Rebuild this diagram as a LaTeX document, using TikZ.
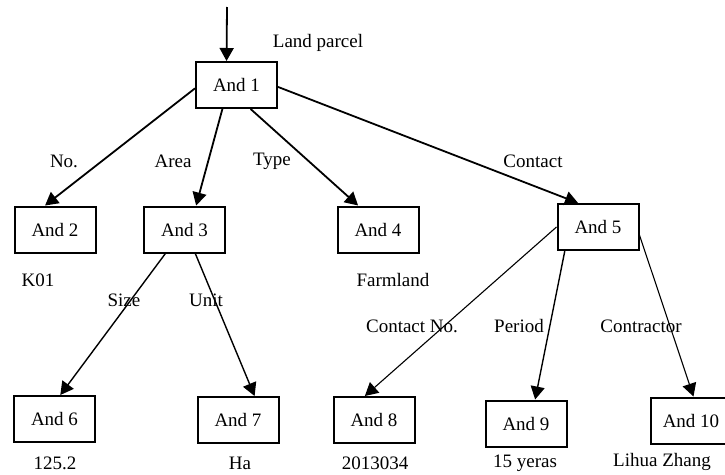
\documentclass[tikz,border=0pt]{standalone}
\usepackage{fontspec}
\setmainfont{Liberation Serif}
\usetikzlibrary{arrows.meta,calc}
\begin{document}
\begin{tikzpicture}[x=1pt,y=-1pt,
  every node/.style={font=\fontsize{19}{22}\selectfont, inner sep=0pt},
  andbox/.style={draw, line width=2pt, minimum width=81pt, minimum height=46pt},
  lbl/.style={anchor=center},
  arr/.style={line width=1.8pt, -{Triangle[length=13pt,width=14pt]}},
  arrm/.style={line width=1.4pt, -{Triangle[length=13pt,width=14pt]}},
  arrt/.style={line width=1.1pt, -{Triangle[length=13pt,width=14pt]}}]
\useasboundingbox (0,0) rectangle (725,474);
% boxes
\node[andbox] (n1) at (236.5,85) {And 1};
\node[andbox] (n2) at (55,229.5) {And 2};
\node[andbox] (n3) at (184.5,229.5) {And 3};
\node[andbox] (n4) at (378,229.5) {And 4};
\node[andbox] (n5) at (598,227) {And 5};
\node[andbox] (n6) at (54.5,419) {And 6};
\node[andbox] (n7) at (238,420) {And 7};
\node[andbox] (n8) at (374,420) {And 8};
\node[andbox] (n9) at (526,423.5) {And 9};
\node[andbox] (n10) at (691,420.5) {And 10};
% labels
\node[lbl] (l0) at (318,43) {Land parcel};
\node[lbl] (l1) at (64,161) {No.};
\node[lbl] (l2) at (173,161) {Area};
\node[lbl] (l3) at (272,161) {Type};
\node[lbl] (l4) at (533,161) {Contact};
\node[lbl] (v2) at (38,280) {K01};
\node[lbl] (v4) at (393,280) {Farmland};
\node[lbl] (l5) at (124,300) {Size};
\node[lbl] (l6) at (206,300) {Unit};
\node[lbl] (l7) at (412,326) {Contact No.};
\node[lbl] (l8) at (519,326) {Period};
\node[lbl] (l9) at (641,326) {Contractor};
\node[lbl] (v6) at (55,463) {125.2};
\node[lbl] (v7) at (240,463) {Ha};
\node[lbl] (v8) at (375,463) {2013034};
\node[lbl] (v9) at (525,463) {15 yeras};
\node[lbl] (v10) at (662,462) {Lihua Zhang};
% connectors
\coordinate (top) at (227,7);
\draw[arr] (top) -- ($(n1.north west)!0.38!(n1.north east)$);
\draw[arr] ($(n1.north west)!0.57!(n1.south west)$) -- ($(n2.north west)!0.38!(n2.north east)$);
\draw[arr] ($(n1.south west)!0.33!(n1.south east)$) -- ($(n3.north west)!0.64!(n3.north east)$);
\draw[arr] ($(n1.south west)!0.67!(n1.south east)$) -- ($(n4.north west)!0.26!(n4.north east)$);
\draw[arr] ($(n1.north east)!0.54!(n1.south east)$) -- ($(n5.north west)!0.26!(n5.north east)$);
\draw[arrm] ($(n3.south west)!0.27!(n3.south east)$) -- ($(n6.north west)!0.57!(n6.north east)$);
\draw[arrm] ($(n3.south west)!0.63!(n3.south east)$) -- ($(n7.north west)!0.70!(n7.north east)$);
\draw[arrt] (n5.west) -- ($(n8.north west)!0.39!(n8.north east)$);
\draw[arrm] ($(n5.south west)!0.10!(n5.south east)$) -- ($(n9.north west)!0.61!(n9.north east)$);
\draw[arrt] ($(n5.north east)!0.67!(n5.south east)$) -- ($(n10.north west)!0.53!(n10.north east)$);
\end{tikzpicture}
\end{document}
